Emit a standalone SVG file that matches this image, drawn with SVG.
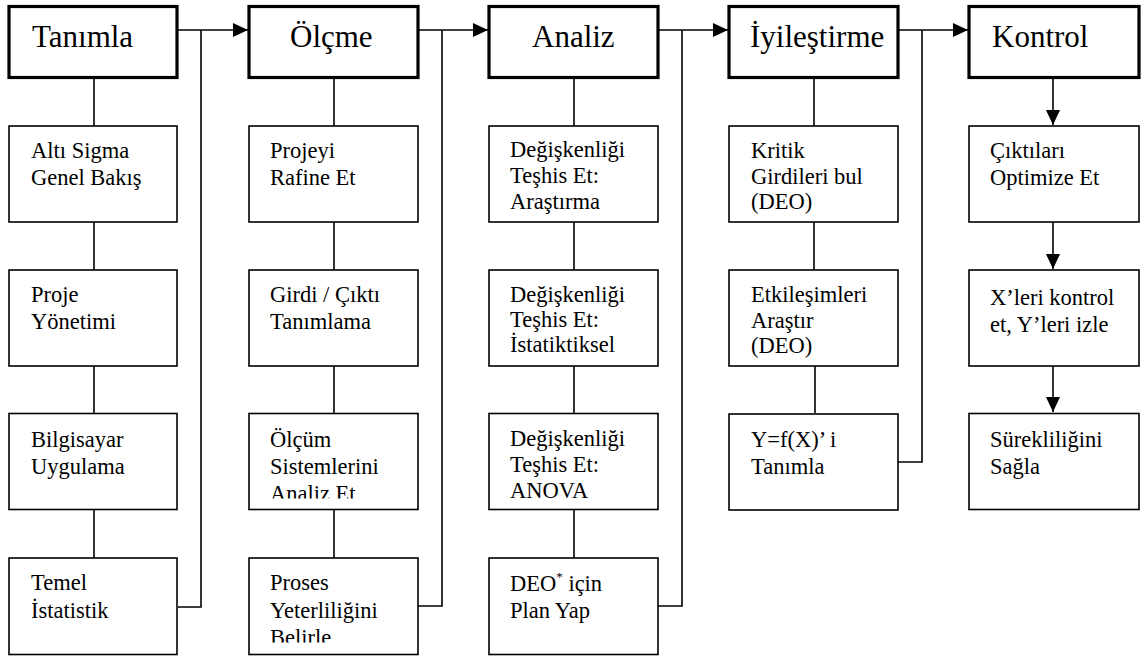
<svg xmlns="http://www.w3.org/2000/svg" width="1147" height="657" viewBox="0 0 1147 657">
  <style>
    .head { fill: #fff; stroke: #000; stroke-width: 3.2; }
    .box { fill: #fff; stroke: #000; stroke-width: 1.6; }
    .ht { font-family: 'Liberation Serif', 'Times New Roman', serif; font-size: 31px; fill: #000; }
    .t { font-family: 'Liberation Serif', 'Times New Roman', serif; font-size: 22.5px; fill: #000; }
    .ln { fill: none; stroke: #000; stroke-width: 1.6; }
  </style>
  <defs>
    <marker id="arr" viewBox="0 0 15 14" refX="15" refY="7" markerWidth="15" markerHeight="14" markerUnits="userSpaceOnUse" orient="auto">
      <path d="M0,0 L15,7 L0,14 Z" fill="#000"/>
    </marker>
    <!-- the last line of these two boxes is cut off by the box frame -->
    <clipPath id="clipOlcum"><rect x="249" y="414" width="169" height="84.5"/></clipPath>
    <clipPath id="clipProses"><rect x="249" y="558" width="169" height="84.5"/></clipPath>
  </defs>

  <rect x="0" y="0" width="1147" height="657" fill="#fff"/>

  <!-- connectors -->
  <g id="connectors">
    <!-- phase-to-phase arrows with return lines from the last step of each phase -->
    <path class="ln" d="M178,30 H248" marker-end="url(#arr)"/>
    <path class="ln" d="M178,607 H201 V30"/>
    <path class="ln" d="M418,30 H488" marker-end="url(#arr)"/>
    <path class="ln" d="M418,606 H442 V30"/>
    <path class="ln" d="M658,30 H728" marker-end="url(#arr)"/>
    <path class="ln" d="M658,606 H682 V30"/>
    <path class="ln" d="M898,30 H968" marker-end="url(#arr)"/>
    <path class="ln" d="M898,462 H922 V30"/>

    <!-- column 1 -->
    <path class="ln" d="M94,78 V126 M94,222 V270 M94,366 V413 M94,510 V558"/>
    <!-- column 2 -->
    <path class="ln" d="M334,78 V126 M334,222 V270 M334,366 V413 M334,510 V558"/>
    <!-- column 3 -->
    <path class="ln" d="M574,78 V126 M574,222 V270 M574,366 V413 M574,510 V558"/>
    <!-- column 4 -->
    <path class="ln" d="M814,78 V126 M814,222 V270 M815,366 V413"/>
    <!-- column 5 -->
    <path class="ln" d="M1053,78 V125" marker-end="url(#arr)"/>
    <path class="ln" d="M1053,222 V269" marker-end="url(#arr)"/>
    <path class="ln" d="M1053,366 V412" marker-end="url(#arr)"/>
  </g>

  <!-- phase headers -->
  <g id="tanimla">
    <rect class="head" x="9" y="6.5" width="168" height="71"/>
    <text class="ht" x="32" y="47">Tanımla</text>
  </g>
  <g id="olcme">
    <rect class="head" x="249" y="6.5" width="169" height="71"/>
    <text class="ht" x="290" y="47">Ölçme</text>
  </g>
  <g id="analiz">
    <rect class="head" x="489" y="6.5" width="169" height="71"/>
    <text class="ht" x="532" y="47">Analiz</text>
  </g>
  <g id="iyilestirme">
    <rect class="head" x="729" y="6.5" width="169" height="71"/>
    <text class="ht" x="750" y="47">İyileştirme</text>
  </g>
  <g id="kontrol">
    <rect class="head" x="969" y="6.5" width="170" height="71"/>
    <text class="ht" x="992" y="47">Kontrol</text>
  </g>

  <!-- column 1: Tanımla -->
  <g id="alti-sigma">
    <rect class="box" x="9" y="126" width="168" height="96"/>
    <text class="t" x="31" y="158">Altı Sigma</text>
    <text class="t" x="31" y="185">Genel Bakış</text>
  </g>
  <g id="proje-yonetimi">
    <rect class="box" x="9" y="270" width="168" height="96"/>
    <text class="t" x="31" y="302">Proje</text>
    <text class="t" x="31" y="329">Yönetimi</text>
  </g>
  <g id="bilgisayar">
    <rect class="box" x="9" y="413.5" width="168" height="96"/>
    <text class="t" x="31" y="447">Bilgisayar</text>
    <text class="t" x="31" y="474">Uygulama</text>
  </g>
  <g id="temel-istatistik">
    <rect class="box" x="9" y="558" width="168" height="96.5"/>
    <text class="t" x="31" y="590">Temel</text>
    <text class="t" x="31" y="618">İstatistik</text>
  </g>

  <!-- column 2: Ölçme -->
  <g id="projeyi-rafine">
    <rect class="box" x="249" y="126" width="169" height="96"/>
    <text class="t" x="270" y="158">Projeyi</text>
    <text class="t" x="270" y="185">Rafine Et</text>
  </g>
  <g id="girdi-cikti">
    <rect class="box" x="249" y="270" width="169" height="96"/>
    <text class="t" x="270" y="302">Girdi / Çıktı</text>
    <text class="t" x="270" y="329">Tanımlama</text>
  </g>
  <g id="olcum-sistemleri">
    <rect class="box" x="249" y="413.5" width="169" height="96"/>
    <g clip-path="url(#clipOlcum)">
      <text class="t" x="270" y="447">Ölçüm</text>
      <text class="t" x="270" y="474">Sistemlerini</text>
      <text class="t" x="270" y="501">Analiz Et</text>
    </g>
  </g>
  <g id="proses-yeterliligi">
    <rect class="box" x="249" y="558" width="169" height="96.5"/>
    <g clip-path="url(#clipProses)">
      <text class="t" x="270" y="590">Proses</text>
      <text class="t" x="270" y="618">Yeterliliğini</text>
      <text class="t" x="270" y="645">Belirle</text>
    </g>
  </g>

  <!-- column 3: Analiz -->
  <g id="arastirma">
    <rect class="box" x="489" y="126" width="169" height="96"/>
    <text class="t" x="510" y="157">Değişkenliği</text>
    <text class="t" x="510" y="183">Teşhis Et:</text>
    <text class="t" x="510" y="208.5">Araştırma</text>
  </g>
  <g id="istatistiksel">
    <rect class="box" x="489" y="270" width="169" height="96"/>
    <text class="t" x="510" y="301.5">Değişkenliği</text>
    <text class="t" x="510" y="327">Teşhis Et:</text>
    <text class="t" x="510" y="352">İstatiktiksel</text>
  </g>
  <g id="anova">
    <rect class="box" x="489" y="413.5" width="169" height="96"/>
    <text class="t" x="510" y="446">Değişkenliği</text>
    <text class="t" x="510" y="472">Teşhis Et:</text>
    <text class="t" x="510" y="497.5">ANOVA</text>
  </g>
  <g id="deo-plan">
    <rect class="box" x="489" y="558" width="169" height="96.5"/>
    <text class="t" x="510" y="590.5">DEO<tspan font-size="13" dy="-10">*</tspan><tspan dy="10"> için</tspan></text>
    <text class="t" x="510" y="618">Plan Yap</text>
  </g>

  <!-- column 4: İyileştirme -->
  <g id="kritik-girdiler">
    <rect class="box" x="729" y="126" width="169" height="96"/>
    <text class="t" x="751" y="157.5">Kritik</text>
    <text class="t" x="751" y="183.5">Girdileri bul</text>
    <text class="t" x="751" y="209">(DEO)</text>
  </g>
  <g id="etkilesimler">
    <rect class="box" x="729" y="270" width="169" height="96"/>
    <text class="t" x="751" y="302">Etkileşimleri</text>
    <text class="t" x="751" y="327.5">Araştır</text>
    <text class="t" x="751" y="353">(DEO)</text>
  </g>
  <g id="y-fx">
    <rect class="box" x="729" y="414" width="169" height="96"/>
    <text class="t" x="751" y="446.5">Y=f(X)’ i</text>
    <text class="t" x="751" y="474">Tanımla</text>
  </g>

  <!-- column 5: Kontrol -->
  <g id="ciktilari-optimize">
    <rect class="box" x="969" y="126" width="170" height="96"/>
    <text class="t" x="990" y="158">Çıktıları</text>
    <text class="t" x="990" y="185">Optimize Et</text>
  </g>
  <g id="xleri-kontrol">
    <rect class="box" x="969" y="270" width="170" height="96"/>
    <text class="t" x="990" y="305">X’leri kontrol</text>
    <text class="t" x="990" y="332">et, Y’leri izle</text>
  </g>
  <g id="sureklilik">
    <rect class="box" x="969" y="413.5" width="170" height="96"/>
    <text class="t" x="990" y="447">Sürekliliğini</text>
    <text class="t" x="990" y="474">Sağla</text>
  </g>
</svg>
